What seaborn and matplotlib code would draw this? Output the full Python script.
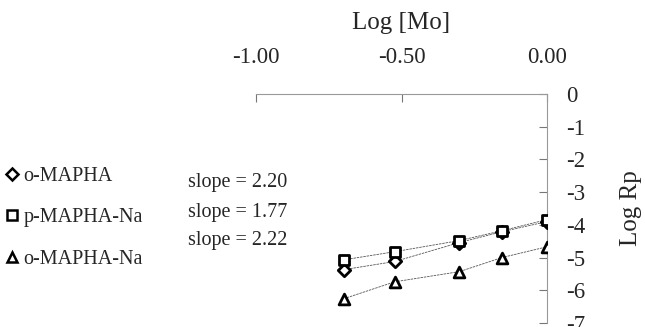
import matplotlib
matplotlib.use("Agg")
import matplotlib.pyplot as plt
import seaborn as sns
import pandas as pd
from matplotlib.lines import Line2D

log_mo = [-0.699, -0.523, -0.301, -0.155, 0.0]
o_mapha = [-5.37, -5.12, -4.54, -4.21, -3.90]
p_mapha_na = [-5.07, -4.82, -4.48, -4.18, -3.84]
o_mapha_na = [-6.26, -5.74, -5.43, -5.00, -4.67]
series_names = ["o-MAPHA", "p-MAPHA-Na", "o-MAPHA-Na"]
slopes = ["slope = 2.20", "slope = 1.77", "slope = 2.22"]
x_ticks = [-1.0, -0.5, 0.0]
x_tick_labels = ["-1.00", "-0.50", "0.00"]
y_ticks = [0, -1, -2, -3, -4, -5, -6, -7]

rows = []
for name, vals in zip(series_names, [o_mapha, p_mapha_na, o_mapha_na]):
    for x, y in zip(log_mo, vals):
        rows.append({"LogMo": x, "LogRp": y, "series": name})
df = pd.DataFrame(rows)

sns.set_style("white")
plt.rcParams["font.family"] = ["Liberation Serif", "DejaVu Serif"]

fig = plt.figure(figsize=(6.45, 3.27), dpi=100)
ax = fig.add_axes([256 / 645, 1 - 323 / 327, (547 - 256) / 645, (323 - 94) / 327])

markers = {"o-MAPHA": "D", "p-MAPHA-Na": "s", "o-MAPHA-Na": "^"}
sizes = {"o-MAPHA": 40, "p-MAPHA-Na": 60, "o-MAPHA-Na": 60}

sns.lineplot(data=df, x="LogMo", y="LogRp", hue="series", palette=["#555555"] * 3,
             linewidth=0.6, linestyle=(0, (3, 1)), legend=False, ax=ax, zorder=1)
for name in series_names:
    sub = df[df.series == name]
    sns.scatterplot(data=sub, x="LogMo", y="LogRp", marker=markers[name], s=sizes[name],
                    facecolor="white", edgecolor="black", linewidth=2.0, legend=False,
                    ax=ax, zorder=3)

ax.set_xlim(-1.0, 0.0)
ax.set_ylim(-7, 0)
ax.xaxis.tick_top()
ax.xaxis.set_label_position("top")
ax.yaxis.tick_right()
ax.yaxis.set_label_position("right")
ax.set_xticks(x_ticks)
ax.set_xticklabels(x_tick_labels)
ax.set_yticks(y_ticks)
ax.set_yticklabels([str(v) for v in y_ticks])
ax.tick_params(axis="both", direction="in", length=6, width=0.8, color="#777777",
               labelsize=16.5)
ax.tick_params(axis="x", pad=19)
ax.tick_params(axis="y", pad=14)
ax.set_xlabel("Log [Mo]", fontsize=18, labelpad=13)
ax.set_ylabel("Log Rp", fontsize=18, rotation=90, labelpad=25)

for side in ["left", "bottom"]:
    ax.spines[side].set_visible(False)
for side in ["top", "right"]:
    ax.spines[side].set_visible(True)
    ax.spines[side].set_color("#999999")
    ax.spines[side].set_linewidth(0.8)

handles = [Line2D([], [], marker=markers[n], linestyle="none", markerfacecolor="white",
                  markeredgecolor="black", markeredgewidth=1.8,
                  markersize=6 if markers[n] == "D" else 7.5) for n in series_names]
fig.legend(handles, series_names, loc="upper left", bbox_to_anchor=(-0.004, 1 - 159 / 327),
           frameon=False, fontsize=14.5, handlelength=0.6, handletextpad=0.3,
           labelspacing=1.1, borderaxespad=0)

for i, txt in enumerate(slopes):
    fig.text(188 / 645, 1 - [182, 212, 240][i] / 327, txt, fontsize=14.5,
             va="center", ha="left")

fig.savefig("out.png", dpi=100)
